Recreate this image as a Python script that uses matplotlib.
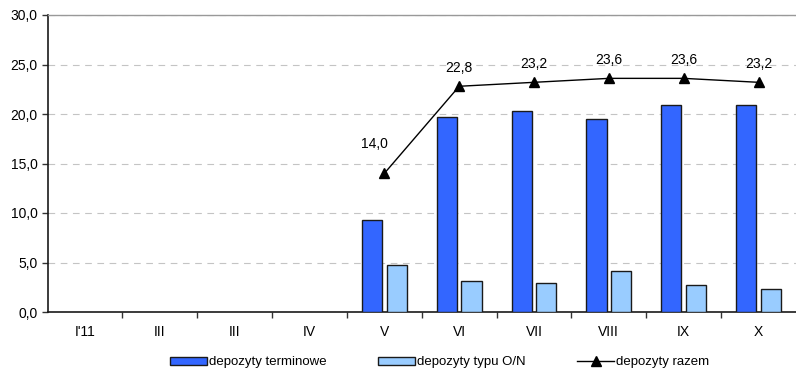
import matplotlib
matplotlib.use("Agg")
import matplotlib.pyplot as plt
import numpy as np

plt.rcParams['font.family'] = ['Liberation Sans', 'DejaVu Sans']

categories = ["I'11", "III", "III", "IV", "V", "VI", "VII", "VIII", "IX", "X"]
terminowe = [np.nan, np.nan, np.nan, np.nan, 9.3, 19.7, 20.3, 19.5, 20.9, 20.9]
overnight = [np.nan, np.nan, np.nan, np.nan, 4.7, 3.1, 2.9, 4.1, 2.7, 2.3]
razem = [np.nan, np.nan, np.nan, np.nan, 14.0, 22.8, 23.2, 23.6, 23.6, 23.2]

fig = plt.figure(figsize=(7.96, 3.76), dpi=100)
ax = fig.add_axes([47.5 / 796, 1 - 312 / 376, (796 - 47.5) / 796, (312 - 15) / 376])

x = np.arange(len(categories))
bw = 0.27
ax.bar(x - 0.165, terminowe, bw, color='#3366FF', edgecolor='#1a1a1a', linewidth=1.0,
       label='depozyty terminowe', zorder=3)
ax.bar(x + 0.165, overnight, bw, color='#99CCFF', edgecolor='#1a1a1a', linewidth=1.0,
       label='depozyty typu O/N', zorder=3)
ax.plot(x, razem, color='black', marker='^', markersize=7, linewidth=1.0,
        label='depozyty razem', zorder=4)

offsets = [(0, 0)] * 4 + [(-7, 16), (0, 8), (0, 8), (0, 8), (0, 8), (0, 8)]
for xi, v, off in zip(x, razem, offsets):
    if np.isnan(v):
        continue
    ax.annotate(f"{v:.1f}".replace('.', ','), (xi, v), xytext=off,
                textcoords='offset points', ha='center', va='bottom', fontsize=10)

ax.set_xlim(-0.5, len(categories) - 0.5)
ax.set_ylim(0, 30)
ax.set_yticks(np.arange(0, 31, 5))
ax.set_yticklabels([f"{t:.1f}".replace('.', ',') for t in np.arange(0, 31, 5)], fontsize=10)
ax.set_xticks(x)
ax.set_xticklabels(categories, fontsize=10)
ax.tick_params(axis='x', which='major', length=0, pad=9)
ax.set_xticks(np.arange(0.5, len(categories) - 1, 1), minor=True)
ax.tick_params(axis='x', which='minor', length=4, width=1, color='#333333', direction='out')
ax.tick_params(axis='y', length=4, width=1, color='#333333', direction='out', pad=3)

ax.yaxis.grid(True, linestyle=(0, (6, 5)), color='#c4c4c4', linewidth=0.8, zorder=0)
ax.set_axisbelow(True)
for s in ['left', 'bottom']:
    ax.spines[s].set_color('#1a1a1a')
    ax.spines[s].set_linewidth(1.2)
ax.spines['top'].set_color('#999999')
ax.spines['top'].set_linewidth(1.0)
ax.spines['right'].set_visible(False)

handles, labels = ax.get_legend_handles_labels()
order = [labels.index('depozyty terminowe'), labels.index('depozyty typu O/N'),
         labels.index('depozyty razem')]
ax.legend([handles[i] for i in order], [labels[i] for i in order],
          loc='center', bbox_to_anchor=(0.524, -0.17), ncol=3, frameon=False, fontsize=9.5,
          handlelength=2.8, handleheight=0.6, handletextpad=0.15, columnspacing=3.9)

fig.savefig('out.png', dpi=100)
